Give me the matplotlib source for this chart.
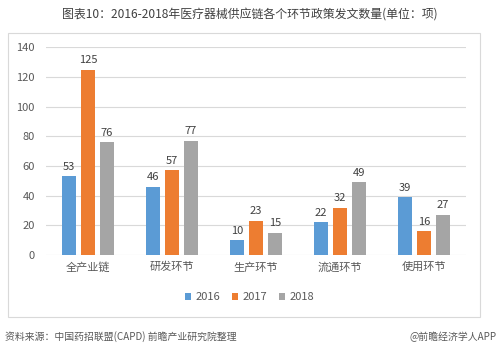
import matplotlib
matplotlib.use("Agg")
import matplotlib.pyplot as plt
import numpy as np
from matplotlib.patches import Rectangle

plt.rcParams["font.family"] = ["Noto Sans CJK SC", "DejaVu Sans"]

categories = ["全产业链", "研发环节", "生产环节", "流通环节", "使用环节"]
years = ["2016", "2017", "2018"]
v2016 = [53, 46, 10, 22, 39]
v2017 = [125, 57, 23, 32, 16]
v2018 = [76, 77, 15, 49, 27]
colors = ["#5B9BD5", "#ED7D31", "#A5A5A5"]

fig = plt.figure(figsize=(4.99, 3.54), dpi=100)
fig.patch.set_facecolor("white")

# outer frame around the chart
fig.patches.append(Rectangle((8 / 499, 1 - 317 / 354), 472 / 499, 284 / 354,
                             transform=fig.transFigure, fill=False,
                             edgecolor="#D9D9D9", linewidth=0.8))

ax = fig.add_axes([0.092, 0.2797, 0.842, 0.5867])
x = np.arange(len(categories))
width = 0.17
step = 0.225
for i, (vals, yr) in enumerate(zip([v2016, v2017, v2018], years)):
    pos = x + (i - 1) * step
    bars = ax.bar(pos, vals, width, color=colors[i], label=yr, zorder=3)
    for b, v in zip(bars, vals):
        ax.text(b.get_x() + b.get_width() / 2, v + 3, str(v),
                ha="center", va="bottom", fontsize=8, color="#404040")

ax.set_xlim(-0.5, len(categories) - 0.5)
ax.set_ylim(0, 140)
ax.set_yticks(range(0, 141, 20))
ax.set_xticks(x)
ax.set_xticklabels(categories)
ax.grid(axis="y", color="#D9D9D9", linewidth=0.8, zorder=0)
for s in ax.spines.values():
    s.set_visible(False)
ax.tick_params(axis="both", length=0, labelsize=8, colors="#595959")
ax.tick_params(axis="y", pad=8)
ax.tick_params(axis="x", pad=5)

ax.legend(loc="center", bbox_to_anchor=(0.5, 1 - 297 / 354), bbox_transform=fig.transFigure,
          ncol=3, frameon=False, fontsize=8, handlelength=0.6, handleheight=0.6,
          columnspacing=1.0, handletextpad=0.4, labelcolor="#595959")

fig.text(0.5, 1 - 14 / 354, "图表10：2016-2018年医疗器械供应链各个环节政策发文数量(单位：项)",
         ha="center", va="center", fontsize=8.6, color="#404040")
fig.text(5 / 499, 1 - 337 / 354, "资料来源：中国药招联盟(CAPD) 前瞻产业研究院整理",
         ha="left", va="center", fontsize=7.1, color="#595959", style="italic")
fig.text(497 / 499, 1 - 337 / 354, "@前瞻经济学人APP",
         ha="right", va="center", fontsize=7.1, color="#595959")

fig.savefig("out.png", dpi=100)
